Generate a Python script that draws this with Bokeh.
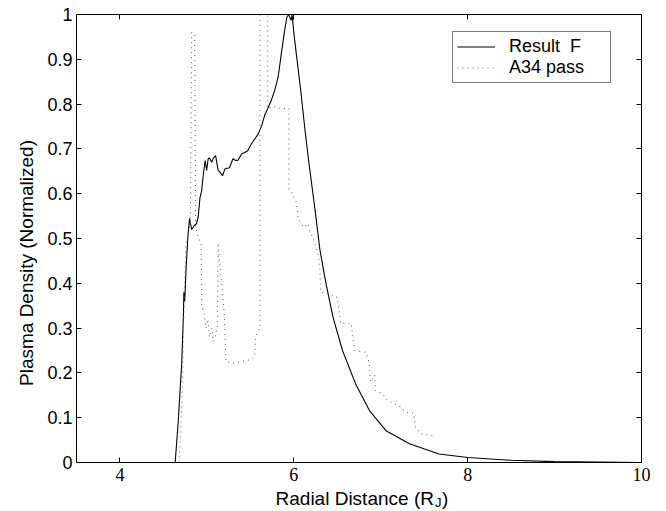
from bokeh.plotting import figure
from bokeh.models import (FixedTicker, LinearAxis, Label, LabelSet, Legend, LegendItem,
                          CustomJSTickFormatter, Range1d, ColumnDataSource)
from bokeh.embed import file_html
from bokeh.resources import INLINE

# ---------------- data ----------------
rf_x = [3.5, 4.635, 4.67, 4.71, 4.73, 4.735, 4.745, 4.76, 4.78, 4.80, 4.825, 4.86,
        4.88, 4.90, 4.92, 4.94, 4.96, 4.98, 4.997, 5.015, 5.03, 5.054, 5.07, 5.10,
        5.13, 5.15, 5.18, 5.207, 5.235, 5.26, 5.30, 5.33, 5.36, 5.40, 5.436, 5.47,
        5.51, 5.55, 5.59, 5.63, 5.665, 5.70, 5.74, 5.78, 5.82, 5.856, 5.894, 5.92,
        5.94, 5.97, 5.98, 6.00, 6.03, 6.08, 6.13, 6.17, 6.21, 6.25, 6.30, 6.37,
        6.45, 6.56, 6.71, 6.87, 7.06, 7.33, 7.67, 8.0, 8.5, 9.0, 9.5, 10.0]
rf_y = [0.0, 0.0, 0.09, 0.22, 0.33, 0.38, 0.36, 0.43, 0.50, 0.545, 0.52, 0.53,
        0.533, 0.548, 0.59, 0.607, 0.645, 0.674, 0.652, 0.678, 0.68, 0.67, 0.678, 0.685,
        0.652, 0.648, 0.64, 0.655, 0.657, 0.658, 0.678, 0.674, 0.675, 0.689, 0.692, 0.696,
        0.711, 0.722, 0.733, 0.752, 0.775, 0.79, 0.808, 0.83, 0.86, 0.912, 0.964, 0.994,
        1.0, 0.987, 1.0, 0.96, 0.91, 0.83, 0.74, 0.675, 0.615, 0.555, 0.475, 0.40,
        0.325, 0.25, 0.176, 0.116, 0.071, 0.042, 0.019, 0.011, 0.005, 0.002, 0.001, 0.0]

a34_x = [4.68, 4.70, 4.72, 4.73, 4.745, 4.76, 4.79, 4.81, 4.825, 4.86, 4.87, 4.90,
         4.935, 4.94, 4.97, 4.99, 5.01, 5.03, 5.06, 5.08, 5.12, 5.13, 5.15, 5.17,
         5.20, 5.22, 5.30, 5.40, 5.50, 5.55, 5.56, 5.585, 5.61, 5.61, 5.70, 5.70,
         5.76, 5.85, 5.944, 5.944, 5.97, 5.99, 6.03, 6.05, 6.085, 6.12, 6.16, 6.18,
         6.22, 6.28, 6.30, 6.31, 6.45, 6.50, 6.52, 6.54, 6.66, 6.68, 6.70, 6.83,
         6.87, 6.88, 6.93, 6.94, 7.02, 7.08, 7.21, 7.29, 7.38, 7.40, 7.46, 7.62]
a34_y = [0.0, 0.08, 0.17, 0.30, 0.40, 0.49, 0.52, 0.53, 0.96, 0.955, 0.53, 0.50,
         0.49, 0.35, 0.33, 0.30, 0.32, 0.28, 0.30, 0.27, 0.30, 0.49, 0.44, 0.40,
         0.33, 0.225, 0.222, 0.225, 0.23, 0.235, 0.28, 0.29, 0.30, 1.0, 1.0, 0.79,
         0.795, 0.79, 0.79, 0.608, 0.605, 0.597, 0.58, 0.545, 0.533, 0.525, 0.533, 0.518,
         0.50, 0.466, 0.43, 0.38, 0.373, 0.368, 0.34, 0.31, 0.311, 0.28, 0.25, 0.246,
         0.22, 0.18, 0.195, 0.16, 0.154, 0.138, 0.127, 0.112, 0.11, 0.079, 0.064, 0.06]

x_ticks = [4, 6, 8, 10]
x_tick_labels = ["4", "6", "8", "10"]
y_ticks = [0, 0.1, 0.2, 0.3, 0.4, 0.5, 0.6, 0.7, 0.8, 0.9, 1.0]
series_names = ["Result\u00a0\u00a0F", "A34 pass"]
x_label = ["Radial Distance (R", "J", ")"]
y_label = "Plasma Density (Normalized)"

FONT = "Liberation Sans"
X_MIN, X_MAX = 3.5, 10.0
Y_MIN, Y_MAX = 0.0, 1.0
# the frame is stretched to the canvas' bottom and right edges so that the
# texts below / right of the axes box are not clipped
Y_START = Y_MIN - 49 / 448
X_END = X_MAX + 25 / (565 / (X_MAX - X_MIN))

p = figure(width=666, height=511, output_backend="svg", toolbar_location=None,
           x_range=Range1d(X_MIN, X_END), y_range=Range1d(Y_START, Y_MAX),
           min_border_left=76, min_border_right=0, min_border_top=14, min_border_bottom=0)
p.background_fill_color = "white"
p.border_fill_color = "white"
p.grid.visible = False
p.outline_line_color = None

r1 = p.line(rf_x, rf_y, line_color="black", line_width=1.1)
r2 = p.line(a34_x, a34_y, line_color="#6a6a6a", line_width=1.1, line_dash="1 4")

fmt = CustomJSTickFormatter(code="return String(Math.round(tick*10)/10);")

def style_axis(ax, labels=True, tick_in=5, tick_out=0):
    ax.major_tick_in = tick_in
    ax.major_tick_out = tick_out
    ax.minor_tick_line_color = None
    ax.axis_line_color = "black"
    ax.major_tick_line_color = "black"
    if labels:
        ax.major_label_text_font = FONT
        ax.major_label_text_font_size = "18px"
        ax.major_label_text_color = "black"
    else:
        ax.major_label_text_font_size = "0px"
        ax.major_label_standoff = 0

# bottom axis (labels drawn separately)
xa = p.xaxis[0]
xa.ticker = FixedTicker(ticks=x_ticks)
xa.formatter = fmt
xa.fixed_location = Y_MIN
xa.bounds = (X_MIN, X_MAX)
style_axis(xa, labels=False)

# left axis
ya = p.yaxis[0]
ya.ticker = FixedTicker(ticks=y_ticks)
ya.formatter = fmt
ya.bounds = (Y_MIN, Y_MAX)
style_axis(ya)
ya.major_label_standoff = 4
ya.axis_label = y_label
ya.axis_label_text_font = FONT
ya.axis_label_text_font_size = "19px"
ya.axis_label_text_font_style = "normal"
ya.axis_label_text_color = "black"
ya.axis_label_standoff = 7

# top axis (box)
top = LinearAxis(ticker=FixedTicker(ticks=x_ticks), formatter=fmt, bounds=(X_MIN, X_MAX))
style_axis(top, labels=False)
p.add_layout(top, "above")

# right side of the box: a y axis fixed at x = X_MAX, kept in the left panel
right = LinearAxis(ticker=FixedTicker(ticks=y_ticks), formatter=fmt, bounds=(Y_MIN, Y_MAX),
                   fixed_location=X_MAX)
style_axis(right, labels=False, tick_in=0, tick_out=5)
p.add_layout(right, "left")

# x tick labels
tick_src = ColumnDataSource(dict(x=x_ticks, y=[Y_MIN] * len(x_ticks), t=x_tick_labels))
p.add_layout(LabelSet(x="x", y="y", text="t", source=tick_src, y_offset=-5,
                      text_align="center", text_baseline="top", text_font=FONT,
                      text_font_size="18px", text_color="black"))

# x-axis label with subscript
specs = [(x_label[0], 0, -36, "right", "19px"),
         (x_label[1], 1, -40, "left", "13px"),
         (x_label[2], 8, -36, "left", "19px")]
for txt, xo, yo, al, fs in specs:
    p.add_layout(Label(x=7.612, y=Y_MIN, x_offset=xo, y_offset=yo, text=txt, text_align=al,
                       text_baseline="alphabetic", text_font=FONT, text_font_size=fs,
                       text_color="black"))

legend = Legend(items=[LegendItem(label=series_names[0], renderers=[r1]),
                       LegendItem(label=series_names[1], renderers=[r2])],
                location=(376, 428))
legend.border_line_color = "black"
legend.border_line_width = 1
legend.background_fill_color = "white"
legend.background_fill_alpha = 1
legend.padding = 4
legend.spacing = 0
legend.margin = 0
legend.label_height = 19
legend.glyph_height = 19
legend.glyph_width = 38
legend.label_standoff = 14
legend.label_width = 97
legend.label_text_font = FONT
legend.label_text_font_size = "18px"
legend.label_text_color = "black"
p.add_layout(legend, "center")

open("out.html", "w").write(file_html(p, INLINE))
